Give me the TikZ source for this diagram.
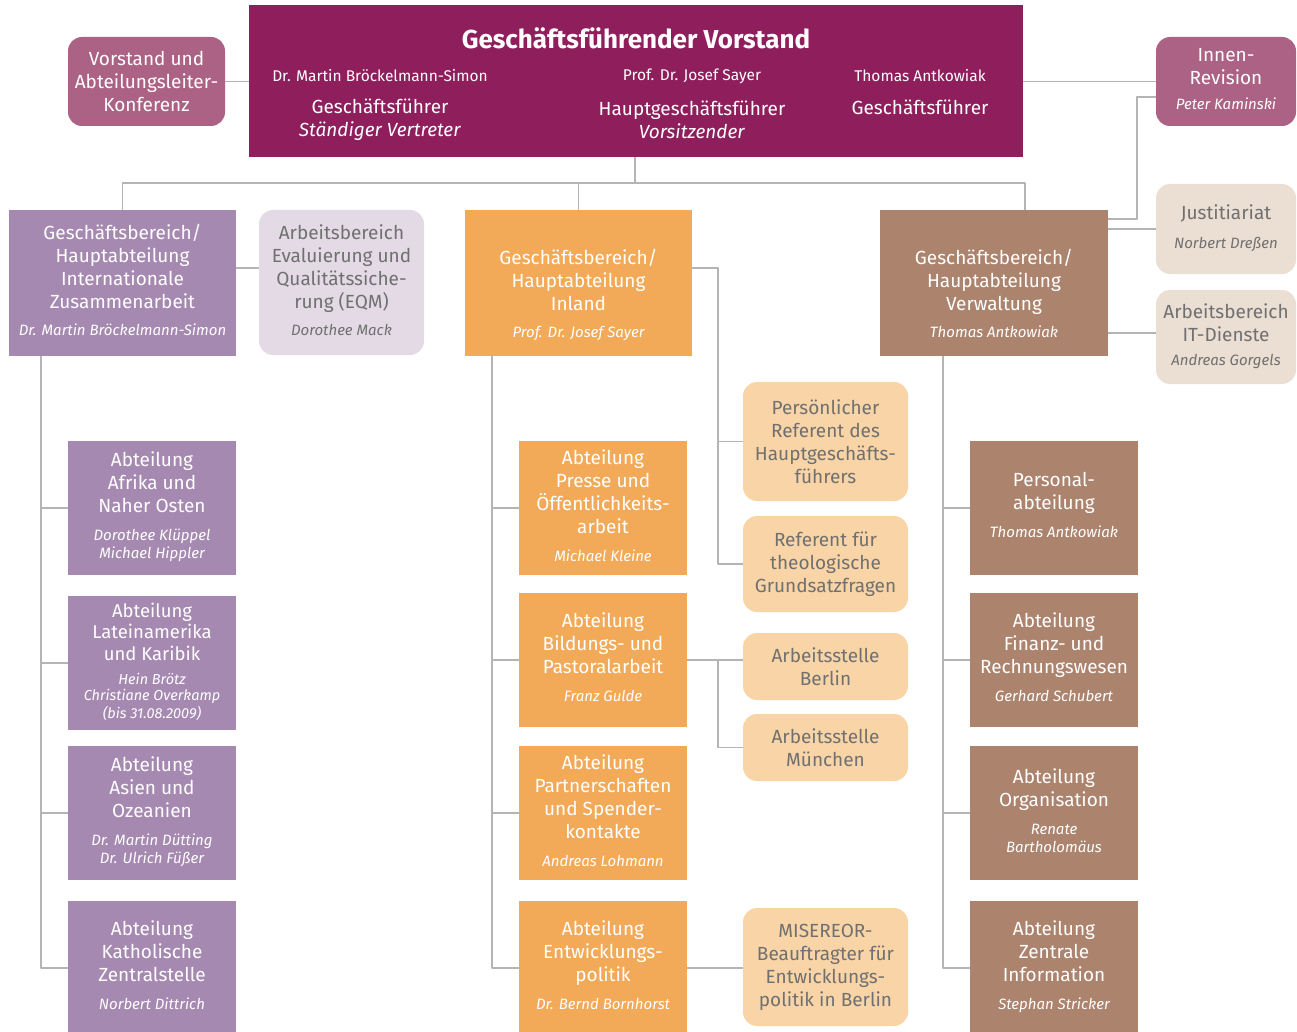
\documentclass[tikz,border=0pt]{standalone}
\usepackage{fontspec}
\setmainfont{Fira Sans}
\definecolor{vorstand}{RGB}{142,31,92}
\definecolor{konf}{RGB}{171,98,132}
\definecolor{igz}{RGB}{166,137,177}
\definecolor{igzpale}{RGB}{227,218,229}
\definecolor{inland}{RGB}{242,170,88}
\definecolor{inlandpale}{RGB}{248,212,166}
\definecolor{verw}{RGB}{172,131,109}
\definecolor{verwpale}{RGB}{235,222,211}
\definecolor{linegrey}{RGB}{180,180,180}
\definecolor{greytext}{RGB}{112,112,112}
\newcommand{\who}[1]{{\fontsize{15}{18}\selectfont\itshape\begin{tabular}[t]{@{}c@{}}#1\end{tabular}}}
\begin{document}
\begin{tikzpicture}[x=1pt,y=-1pt,line join=round]
\tikzset{every node/.style={align=center,inner sep=0pt,font=\fontsize{19}{23}\selectfont},
	box/.style={minimum width=168pt,minimum height=134pt,text=white},
	soft/.style={rounded corners=14pt},
	pale/.style={soft,text=greytext},
	conn/.style={draw=linegrey,line width=1.4pt}}
\useasboundingbox (0,0) rectangle (1297,1032);
\node[fill=vorstand,minimum width=774pt,minimum height=152pt] (vor) at (636,81) {};
\node[text=white,font=\bfseries\fontsize{26}{30}\selectfont] (vt) at (636,38) {Geschäftsführender Vorstand};
\node[text=white,font=\fontsize{15.5}{18}\selectfont] (n1) at (380,76) {Dr. Martin Bröckelmann-Simon};
\node[text=white,font=\fontsize{15.5}{18}\selectfont] (n2) at (692,76) {Prof. Dr. Josef Sayer};
\node[text=white,font=\fontsize{15.5}{18}\selectfont] (n3) at (920,76) {Thomas Antkowiak};
\node[text=white] (r1) at (380,120) {Geschäftsführer\\\textit{Ständiger Vertreter}};
\node[text=white] (r2) at (692,120) {Hauptgeschäftsführer\\\textit{Vorsitzender}};
\node[text=white] (r3) at (920,107) {Geschäftsführer};
\node[soft,fill=konf,text=white,minimum width=157pt,minimum height=89pt] (konf) at (146.5,81.5) {Vorstand und\\Abteilungsleiter-\\Konferenz};
\node[soft,fill=konf,text=white,minimum width=140pt,minimum height=89pt] (innen) at (1226,81.5) {Innen-\\Revision\\[2pt]\who{Peter Kaminski}};
\node[box,fill=igz,minimum width=227pt,minimum height=146pt] (igz) at (122.5,283) {Geschäftsbereich/\\Hauptabteilung\\Internationale\\Zusammenarbeit\\[4pt]\who{Dr. Martin Bröckelmann-Simon}};
\node[pale,fill=igzpale,minimum width=165pt,minimum height=145pt] (eqm) at (341.5,282.5) {Arbeitsbereich\\Evaluierung und\\Qualitätssiche-\\rung (EQM)\\[4pt]\who{Dorothee Mack}};
\node[box,fill=inland,minimum width=227pt,minimum height=146pt] (inl) at (578.5,283) {\rule{0pt}{0pt}\\[19pt]Geschäftsbereich/\\Hauptabteilung\\Inland\\[4pt]\who{Prof. Dr. Josef Sayer}};
\node[box,fill=verw,minimum width=228pt,minimum height=146pt] (verw) at (994,283) {\rule{0pt}{0pt}\\[19pt]Geschäftsbereich/\\Hauptabteilung\\Verwaltung\\[4pt]\who{Thomas Antkowiak}};
\node[pale,fill=verwpale,minimum width=140pt,minimum height=90pt] (justi) at (1226,229) {Justitiariat\\[6pt]\who{Norbert Dreßen}};
\node[pale,fill=verwpale,minimum width=140pt,minimum height=94pt] (itd) at (1226,337) {Arbeitsbereich\\IT-Dienste\\[1pt]\who{Andreas Gorgels}};
\node[box,fill=igz] (afr) at (152,508) {Abteilung\\Afrika und\\Naher Osten\\[5pt]\who{Dorothee Klüppel\\Michael Hippler}};
\node[box,fill=igz,font=\fontsize{18.5}{21.5}\selectfont] (lat) at (152,663) {Abteilung\\Lateinamerika\\und Karibik\\[2.5pt]{\fontsize{14.5}{16.5}\selectfont\itshape\begin{tabular}[t]{@{}c@{}}Hein Brötz\\Christiane Overkamp\\(bis 31.08.2009)\end{tabular}}};
\node[box,fill=igz] (asi) at (152,813) {Abteilung\\Asien und\\Ozeanien\\[5pt]\who{Dr. Martin Dütting\\Dr. Ulrich Füßer}};
\node[box,fill=igz] (kat) at (152,968) {Abteilung\\Katholische\\Zentralstelle\\[5pt]\who{Norbert Dittrich}};
\node[box,fill=inland] (pre) at (603,508) {Abteilung\\Presse und\\Öffentlichkeits-\\arbeit\\[5pt]\who{Michael Kleine}};
\node[box,fill=inland] (bil) at (603,660) {Abteilung\\Bildungs- und\\Pastoralarbeit\\[5pt]\who{Franz Gulde}};
\node[box,fill=inland] (par) at (603,813) {Abteilung\\Partnerschaften\\und Spender-\\kontakte\\[5pt]\who{Andreas Lohmann}};
\node[box,fill=inland] (ent) at (603,968) {Abteilung\\Entwicklungs-\\politik\\[5pt]\who{Dr. Bernd Bornhorst}};
\node[pale,fill=inlandpale,minimum width=165pt,minimum height=119pt] (prs) at (825.5,441.5) {Persönlicher\\Referent des\\Hauptgeschäfts-\\führers};
\node[pale,fill=inlandpale,minimum width=165pt,minimum height=96pt] (ref) at (825.5,564) {Referent für\\theologische\\Grundsatzfragen};
\node[pale,fill=inlandpale,minimum width=165pt,minimum height=67pt] (ber) at (825.5,666.5) {Arbeitsstelle\\Berlin};
\node[pale,fill=inlandpale,minimum width=165pt,minimum height=67pt] (mue) at (825.5,747.5) {Arbeitsstelle\\München};
\node[pale,fill=inlandpale,minimum width=165pt,minimum height=118pt] (mis) at (825.5,967) {MISEREOR-\\Beauftragter für\\Entwicklungs-\\politik in Berlin};
\node[box,fill=verw] (pers) at (1054,508) {Personal-\\abteilung\\[5pt]\who{Thomas Antkowiak}};
\node[box,fill=verw] (fin) at (1054,660) {Abteilung\\Finanz- und\\Rechnungswesen\\[5pt]\who{Gerhard Schubert}};
\node[box,fill=verw] (org) at (1054,813) {Abteilung\\Organisation\\[5pt]\who{Renate\\Bartholomäus}};
\node[box,fill=verw] (zen) at (1054,968) {Abteilung\\Zentrale\\Information\\[5pt]\who{Stephan Stricker}};
\coordinate (bus) at (635,183);
\draw[conn] (vor.south -| bus) -- (bus);
\draw[conn] (igz.north) |- (bus);
\draw[conn] (inl.north) -- (inl.north |- bus);
\draw[conn] (bus) -| (verw.north -| 1025,0);
\draw[conn] (konf.east) -- (konf.east -| vor.west);
\draw[conn] (vor.east |- innen) -- (innen.west);
\draw[conn] (innen.west |- 0,97) -| (1137,219) -- (verw.east |- 0,219);
\draw[conn] (verw.east |- justi) -- (justi.west);
\draw[conn] (verw.east |- 0,333) -- (itd.west |- 0,333);
\draw[conn] (igz.east |- 0,268) -- (eqm.west |- 0,268);
\foreach \n in {afr,lat,asi,kat} \draw[conn] (igz.south -| 41,0) |- (\n.west);
\foreach \n in {pre,bil,par,ent} \draw[conn] (inl.south -| 492,0) |- (\n.west);
\foreach \n in {pers,fin,org,zen} \draw[conn] (verw.south -| 943,0) |- (\n.west);
\foreach \n in {prs,ref} \draw[conn] (inl.east |- 0,268) -- (718,268) |- (\n.west);
\draw[conn] (bil.east) -- (bil.east -| ber.west);
\draw[conn] (bil.east -| 718,0) |- (mue.west);
\draw[conn] (ent.east) -- (ent.east -| mis.west);
\end{tikzpicture}
\end{document}
